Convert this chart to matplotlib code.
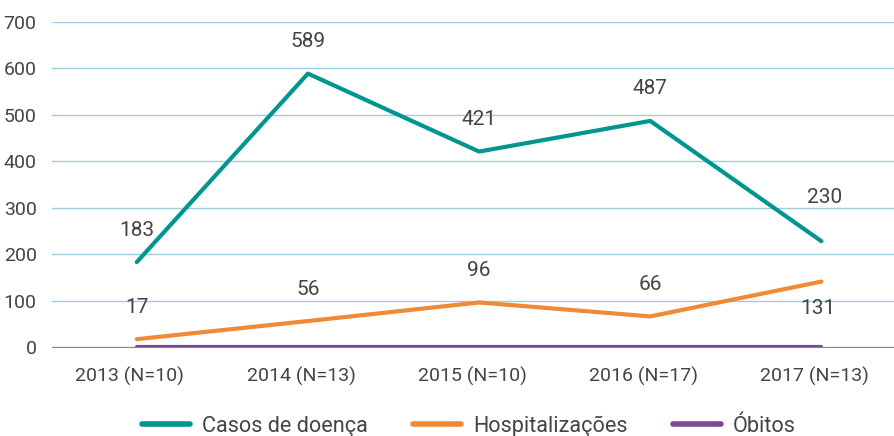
import numpy as np
import matplotlib.pyplot as plt
import matplotlib.transforms as mtransforms

plt.rcParams['font.family'] = ['Roboto', 'DejaVu Sans']

# dados
anos = ['2013 (N=10)', '2014 (N=13)', '2015 (N=10)', '2016 (N=17)', '2017 (N=13)']
casos = [183, 589, 421, 487, 228]
hosp = [17, 56, 96, 66, 141]
obitos = [0, 0, 0, 0, 0]
casos_txt = ['183', '589', '421', '487', '230']
hosp_txt = ['17', '56', '96', '66', '131']

c_teal = '#00968f'
c_orange = '#f18a35'
c_purple = '#7c4797'
c_text = '#444444'

fig = plt.figure(figsize=(8.95, 4.36), dpi=100)
ax = fig.add_axes([0.058, 0.204, 0.942, 0.7455])

x = np.arange(len(anos))
ax.plot(x, casos, color=c_teal, lw=3, label='Casos de doença', solid_capstyle='round', zorder=4)
ax.plot(x, hosp, color=c_orange, lw=3, label='Hospitalizações', solid_capstyle='round', zorder=4)
ax.plot(x, obitos, color=c_purple, lw=3, label='Óbitos', solid_capstyle='round', zorder=5)

# rótulos
for i in range(len(anos)):
    dy = 32 if i < 4 else 44
    ax.annotate(casos_txt[i], (x[i], casos[i]), xytext=(0 if i < 4 else 3, dy), textcoords='offset pixels',
                ha='center', va='center', fontsize=15, color=c_text)
    dy = 32 if i < 4 else -27
    ax.annotate(hosp_txt[i], (x[i], hosp[i]), xytext=(-3 if i == 4 else 0, dy),
                textcoords='offset pixels', ha='center', va='center', fontsize=15, color=c_text)

ax.set_xlim(-0.496, 4.43)
ax.set_ylim(0, 700)
ax.set_yticks(range(0, 701, 100))
ax.set_xticks(x)
ax.set_xticklabels(anos)
ax.grid(axis='y', color='#9dcfe0', lw=1)
ax.set_axisbelow(True)
for s in ['top', 'right', 'left']:
    ax.spines[s].set_visible(False)
ax.spines['bottom'].set_color('#8a8a8a')
ax.tick_params(axis='both', length=0, labelsize=14, colors=c_text)
ax.tick_params(axis='y', pad=11)
ax.tick_params(axis='x', pad=14)

# rótulos do eixo x ligeiramente à esquerda, como no original
shift = mtransforms.ScaledTranslation(-7 / 100, 0, fig.dpi_scale_trans)
for lbl in ax.get_xticklabels():
    lbl.set_transform(lbl.get_transform() + shift)

fig.legend(loc='center', bbox_to_anchor=(0.524, 1 - 426 / 436), ncol=3, frameon=False,
           fontsize=15.6, handlelength=2.2, columnspacing=2.1, handletextpad=0.55,
           labelcolor=c_text)
for line in fig.legends[0].get_lines():
    line.set_linewidth(4)

fig.savefig('out.png', dpi=100)
